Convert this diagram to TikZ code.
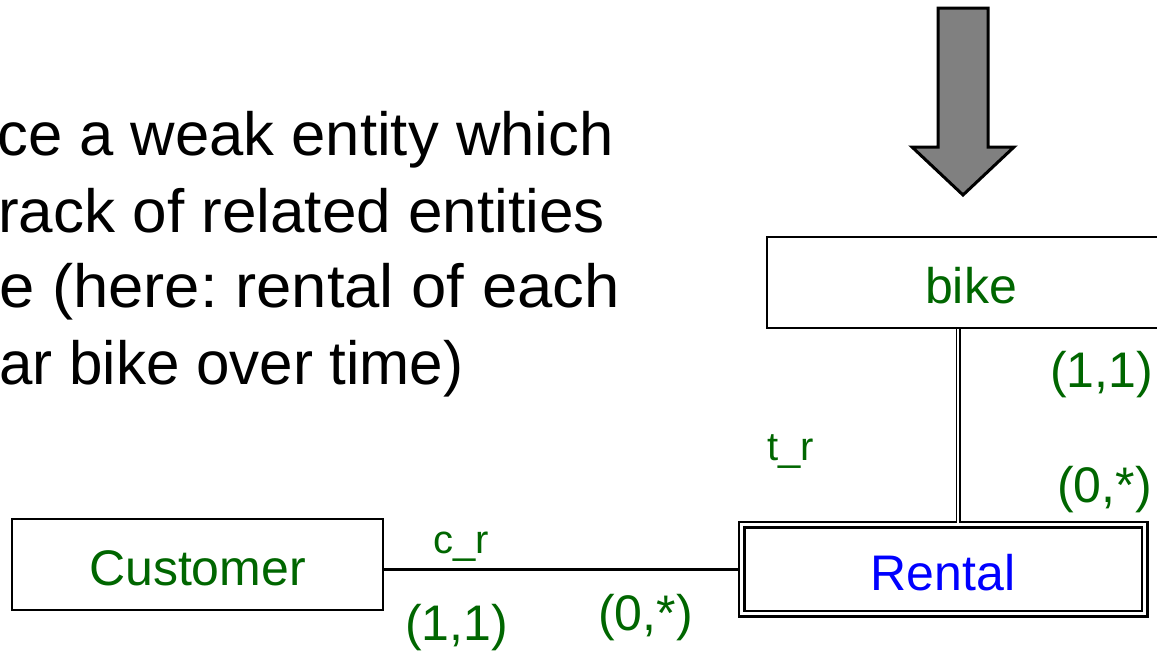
\documentclass[tikz,border=0pt]{standalone}
\usepackage{fontspec}
\setmainfont{Liberation Sans}
\frenchspacing
\usetikzlibrary{positioning}
\definecolor{ergreen}{RGB}{0,102,0}
\definecolor{erblue}{RGB}{0,0,255}

\begin{document}
\begin{tikzpicture}[x=1pt,y=-1pt,%
    entity/.style={draw,line width=2pt,inner sep=0pt,text height=42pt,text depth=0pt,
      minimum height=91pt,font=\fontsize{50}{60}\selectfont},
    weak/.style={entity,double,double distance=3pt,line width=2.5pt,minimum height=89pt},
    card/.style={anchor=base west,inner sep=0pt,text=ergreen,font=\fontsize{50}{60}\selectfont},
    role/.style={card,font=\fontsize{40}{48}\selectfont},
    line/.style={anchor=base west,inner sep=0pt,font=\fontsize{61}{76}\selectfont}]
    \useasboundingbox (0,0) rectangle (1157,651);
    \node[line,xscale=1.01] (l1) at (-3,155) {ce a weak entity which};
    \node[line,xscale=1.017] (l2) at (-2,232) {rack of related entities};
    \node[line,xscale=1.04] (l3) at (-1,307) {e (here: rental of each};
    \node[line,xscale=0.985] (l4) at (-1,384) {ar bike over time)};
    \filldraw[fill=gray,line width=3pt,miter limit=10] (938,8) -- (988,8) -- (988,147) -- (1014,147)
      -- (963,195) -- (912,147) -- (938,147) -- cycle;
    \node[entity,minimum width=408pt,text=ergreen] (bike) at (971,282.5) {bike};
    \node[entity,minimum width=371pt,text=ergreen] (customer) at (197.5,564.5) {Customer};
    \node[weak,minimum width=403pt,text=erblue] (rental) at (943,569) {Rental};
    \path (bike.south) ++(-13,0) coordinate (tb);
    \draw[double,double distance=2pt,line width=1.5pt] (tb) -- (tb |- rental.north);
    \draw[line width=3pt] (customer.east |- rental.west) -- (rental.west);
    \node[role] (cr) at (433,553) {c\_r};
    \node[role] (tr) at (767,460) {t\_r};
    \node[card] (c11) at (405,640) {(1,1)};
    \node[card] (c0n) at (598,630) {(0,*)};
    \node[card] (b11) at (1050,387) {(1,1)};
    \node[card] (b0n) at (1057,502) {(0,*)};
\end{tikzpicture}
\end{document}
